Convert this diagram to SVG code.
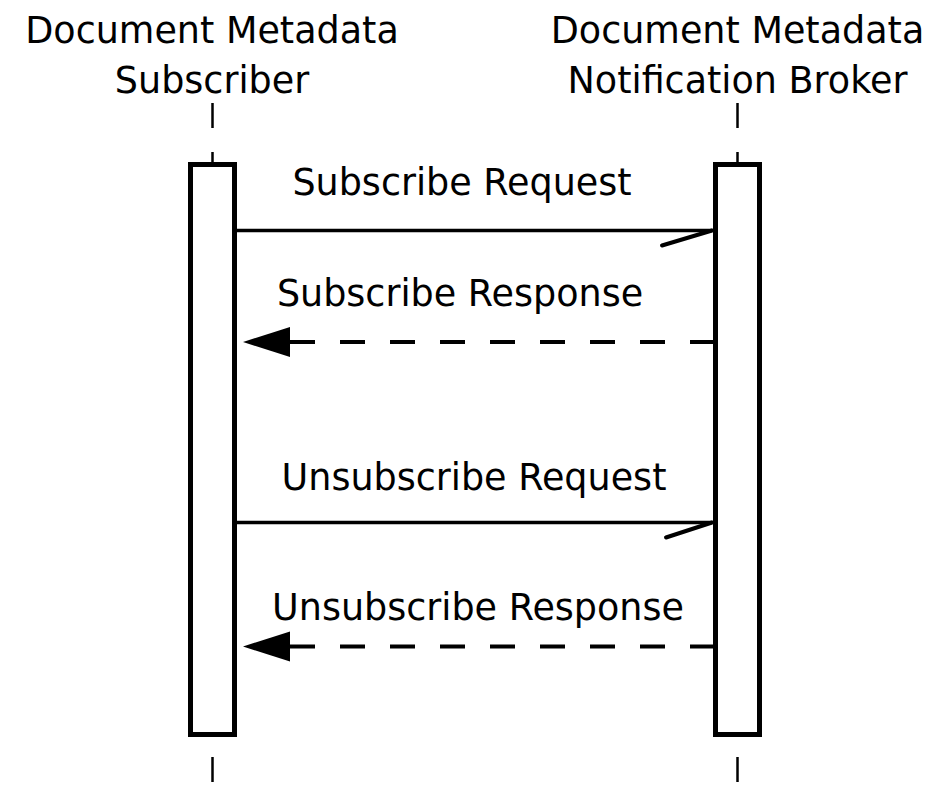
<svg xmlns="http://www.w3.org/2000/svg" width="942" height="804" viewBox="0 0 942 804">
<style>
  text { font-family: "DejaVu Sans", "Liberation Sans", sans-serif; font-size: 36.5px; fill: #000; text-anchor: middle; }
  .life { stroke: #000; stroke-width: 2.5; fill: none; }
  .act { stroke: #000; stroke-width: 5; fill: #fff; }
  .msg { stroke: #000; stroke-width: 3.5; fill: none; }
  .dash { stroke: #000; stroke-width: 4; fill: none; stroke-dasharray: 25 25; }
  .head { stroke: #000; stroke-width: 4; stroke-linecap: round; fill: none; }
</style>
<rect width="942" height="804" fill="#fff"/>
<g id="subscriber">
  <text x="212" y="43">Document Metadata</text>
  <text x="212" y="93">Subscriber</text>
  <line class="life" x1="212.5" y1="103" x2="212.5" y2="128"/>
  <line class="life" x1="212.5" y1="152" x2="212.5" y2="163"/>
  <line class="life" x1="212.5" y1="757" x2="212.5" y2="782"/>
  <rect class="act" x="190.5" y="164.5" width="44" height="570"/>
</g>
<g id="broker">
  <text x="737.5" y="43">Document Metadata</text>
  <text x="737.5" y="93">Notification Broker</text>
  <line class="life" x1="737.5" y1="103" x2="737.5" y2="128"/>
  <line class="life" x1="737.5" y1="152" x2="737.5" y2="163"/>
  <line class="life" x1="737.5" y1="757" x2="737.5" y2="782"/>
  <rect class="act" x="715.5" y="164.5" width="44" height="570"/>
</g>
<g id="connectors">
  <text x="462" y="195">Subscribe Request</text>
  <line class="msg" x1="237" y1="230.5" x2="712" y2="230.5"/>
  <line class="head" x1="712" y1="230.5" x2="662" y2="245.5"/>

  <text x="460" y="306">Subscribe Response</text>
  <line class="dash" x1="290" y1="342" x2="713" y2="342"/>
  <polygon points="243,342 290,327 290,357" fill="#000"/>

  <text x="474" y="490">Unsubscribe Request</text>
  <line class="msg" x1="237" y1="522.5" x2="712" y2="522.5"/>
  <line class="head" x1="712" y1="522.5" x2="666" y2="537.5"/>

  <text x="478" y="620">Unsubscribe Response</text>
  <line class="dash" x1="290" y1="646.5" x2="713" y2="646.5"/>
  <polygon points="243,646.5 290,631.5 290,661.5" fill="#000"/>
</g>
</svg>
